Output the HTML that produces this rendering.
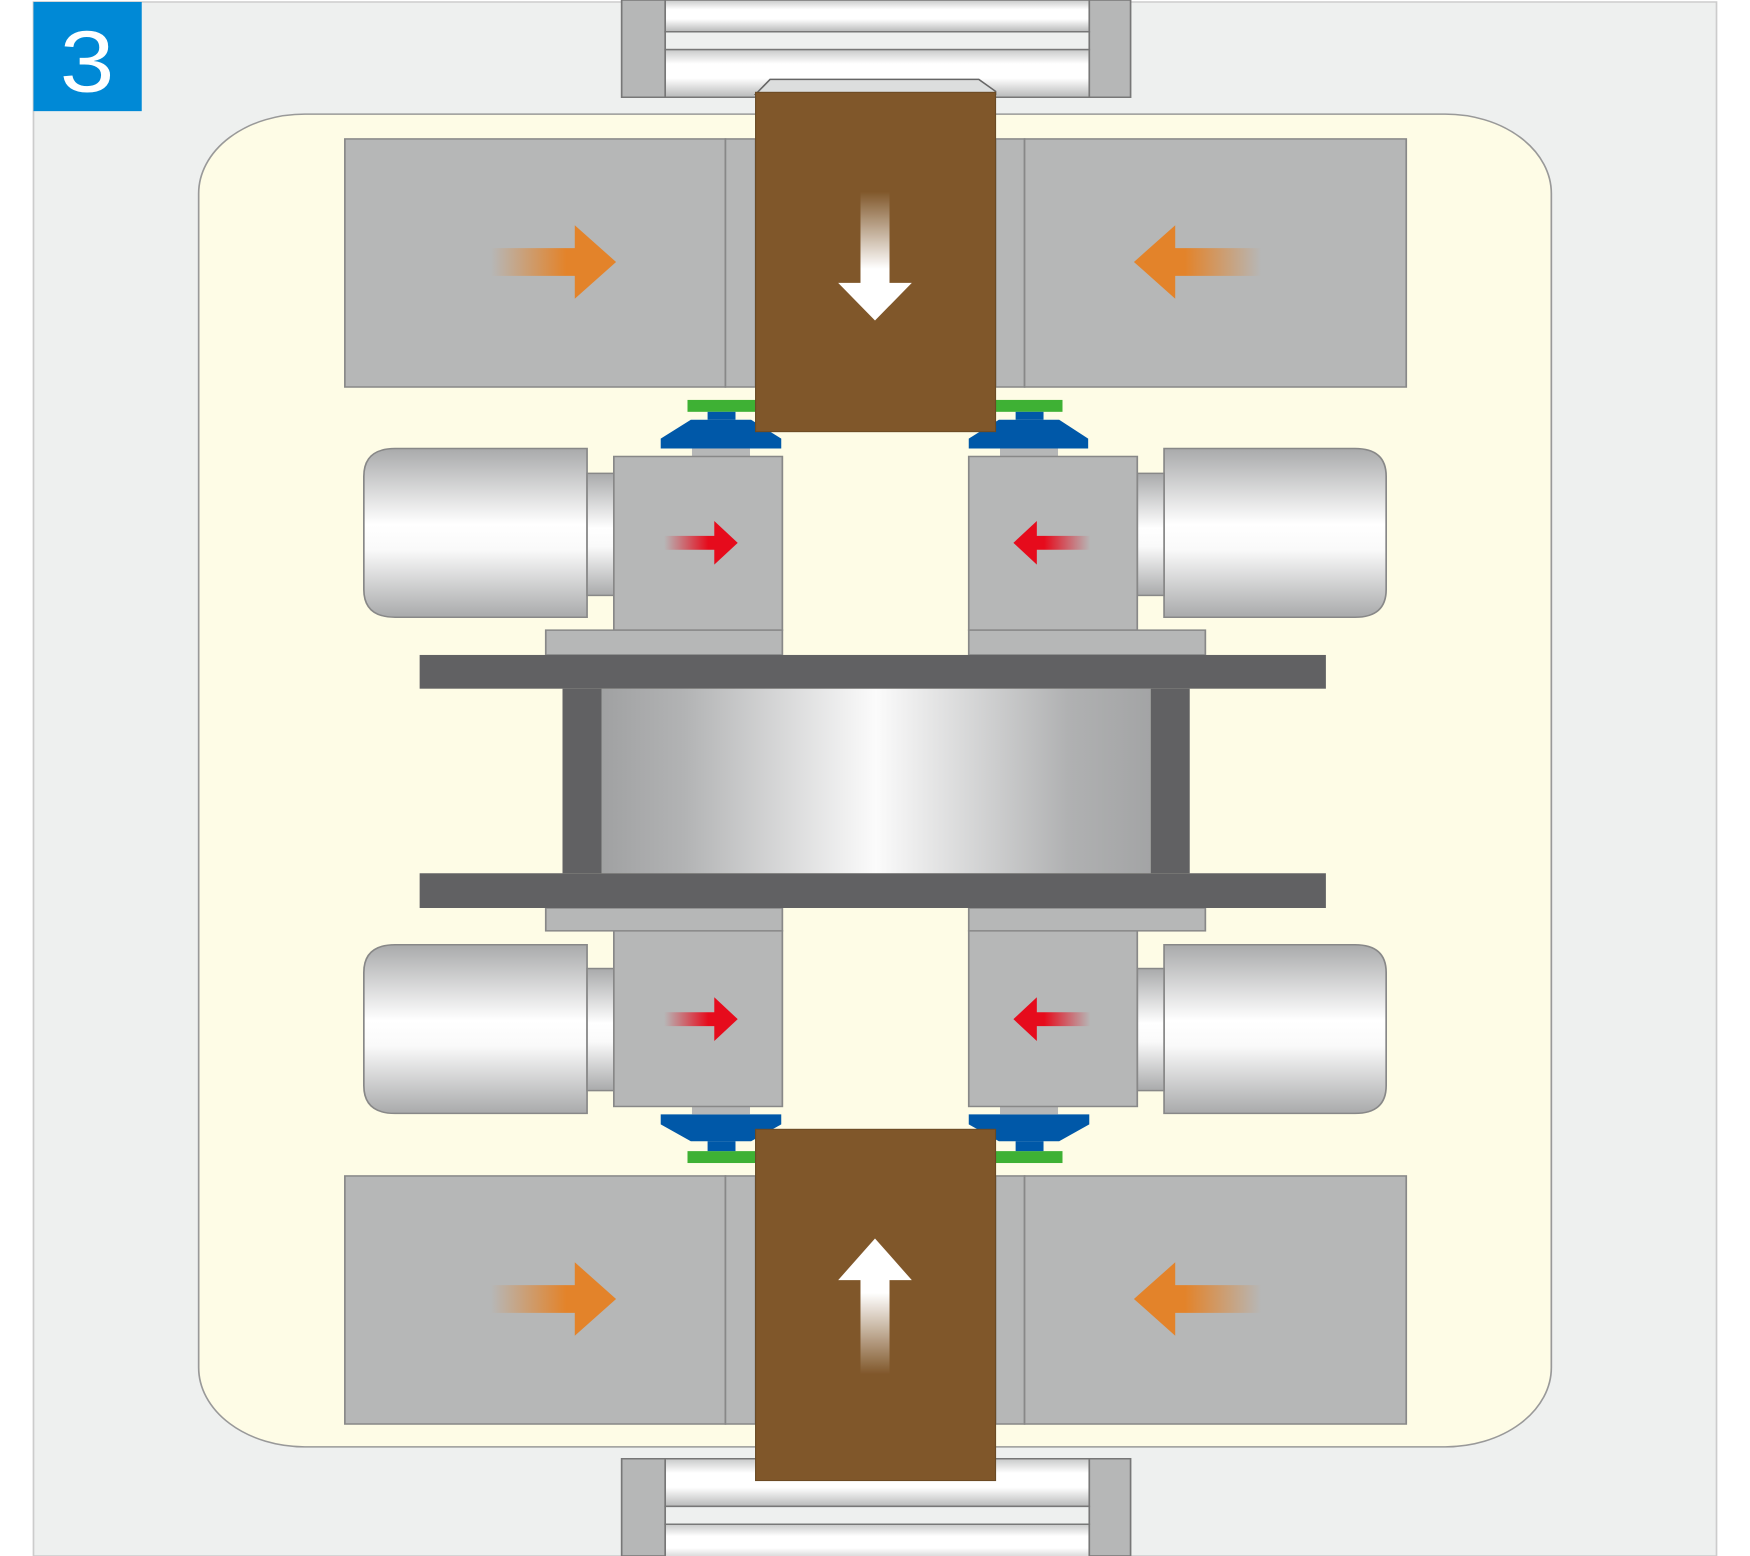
<!DOCTYPE html>
<html><head><meta charset="utf-8"><style>html,body{margin:0;padding:0;background:#fff}svg{display:block}</style></head>
<body>
<svg width="1750" height="1556" viewBox="0 0 1568 1568" preserveAspectRatio="none" xmlns="http://www.w3.org/2000/svg">
<defs>
<linearGradient id="roll" x1="0" y1="0" x2="0" y2="1"><stop offset="0" stop-color="#c8c9c9"/><stop offset="0.3" stop-color="#fff"/><stop offset="0.6" stop-color="#fff"/><stop offset="1" stop-color="#b8b9b9"/></linearGradient>
<linearGradient id="mot" x1="0" y1="0" x2="0" y2="1"><stop offset="0" stop-color="#a9aaab"/><stop offset="0.45" stop-color="#fff"/><stop offset="0.6" stop-color="#fafafa"/><stop offset="1" stop-color="#a9aaab"/></linearGradient>
<linearGradient id="wheel" x1="0" y1="0" x2="1" y2="0"><stop offset="0" stop-color="#a0a1a2"/><stop offset="0.15" stop-color="#b2b3b4"/><stop offset="0.5" stop-color="#fbfbfb"/><stop offset="0.85" stop-color="#b0b1b2"/><stop offset="1" stop-color="#a3a4a5"/></linearGradient>
<linearGradient id="orR" x1="0" y1="0" x2="1" y2="0"><stop offset="0" stop-color="#e3832a" stop-opacity="0"/><stop offset="0.6" stop-color="#e3832a"/></linearGradient>
<linearGradient id="orL" x1="1" y1="0" x2="0" y2="0"><stop offset="0" stop-color="#e3832a" stop-opacity="0"/><stop offset="0.6" stop-color="#e3832a"/></linearGradient>
<linearGradient id="rdR" x1="0" y1="0" x2="1" y2="0"><stop offset="0" stop-color="#e60b1c" stop-opacity="0"/><stop offset="0.6" stop-color="#e60b1c"/></linearGradient>
<linearGradient id="rdL" x1="1" y1="0" x2="0" y2="0"><stop offset="0" stop-color="#e60b1c" stop-opacity="0"/><stop offset="0.6" stop-color="#e60b1c"/></linearGradient>
<linearGradient id="wD" x1="0" y1="0" x2="0" y2="1"><stop offset="0" stop-color="#fff" stop-opacity="0"/><stop offset="0.6" stop-color="#fff"/></linearGradient>
<linearGradient id="wU" x1="0" y1="1" x2="0" y2="0"><stop offset="0" stop-color="#fff" stop-opacity="0"/><stop offset="0.6" stop-color="#fff"/></linearGradient>
</defs>
<rect x="0" y="0" width="1568" height="1568" fill="#fff"/>
<rect x="30" y="2" width="1508" height="1566" fill="#eef0ef" stroke="#ccc" stroke-width="1.5"/>
<rect x="30" y="2" width="97" height="110" fill="#0089d6"/>
<text x="78" y="92" font-family="Liberation Sans, sans-serif" font-size="88" fill="#fff" text-anchor="middle">3</text>
<!-- rollers -->
<g stroke="#777" stroke-width="1.5">
<rect x="557" y="0" width="456" height="98" fill="#b6b7b7"/>
<rect x="596" y="0" width="380" height="32" fill="url(#roll)"/>
<rect x="596" y="32" width="380" height="18" fill="#eef0ef"/>
<rect x="596" y="50" width="380" height="48" fill="url(#roll)"/>
<rect x="557" y="1470" width="456" height="98" fill="#b6b7b7"/>
<rect x="596" y="1470" width="380" height="48" fill="url(#roll)"/>
<rect x="596" y="1518" width="380" height="18" fill="#eef0ef"/>
<rect x="596" y="1536" width="380" height="40" fill="url(#roll)"/>
</g>
<rect x="178" y="115" width="1212" height="1343" rx="95" ry="80" fill="#fefce6" stroke="#999" stroke-width="1.5"/>
<!-- gray boxes -->
<g fill="#b6b7b7" stroke="#888" stroke-width="1.5">
<rect x="309" y="140" width="341" height="250"/><rect x="650" y="140" width="27" height="250"/>
<rect x="892" y="140" width="26" height="250"/><rect x="918" y="140" width="342" height="250"/>
<rect x="309" y="1185" width="341" height="250"/><rect x="650" y="1185" width="27" height="250"/>
<rect x="892" y="1185" width="26" height="250"/><rect x="918" y="1185" width="342" height="250"/>
</g>
<!-- orange arrows -->
<path d="M440 250H515V227L552 264L515 301V278H440Z" fill="url(#orR)"/>
<path d="M1130 250H1053V227L1016 264L1053 301V278H1130Z" fill="url(#orL)"/>
<path d="M440 1295H515V1272L552 1309L515 1346V1323H440Z" fill="url(#orR)"/>
<path d="M1130 1295H1053V1272L1016 1309L1053 1346V1323H1130Z" fill="url(#orL)"/>
<!-- pads top -->
<g>
<rect x="616" y="403" width="62" height="12" fill="#3eb134"/><rect x="892" y="403" width="60" height="12" fill="#3eb134"/>
<rect x="634" y="415" width="25" height="8" fill="#0058a8"/><rect x="910" y="415" width="25" height="8" fill="#0058a8"/>
<path d="M619 423H673L700 442V452H592V442Z" fill="#0058a8"/><path d="M895 423H949L975 442V452H868V442Z" fill="#0058a8"/>
<rect x="620" y="452" width="52" height="8" fill="#b6b7b7"/><rect x="896" y="452" width="52" height="8" fill="#b6b7b7"/>
<rect x="616" y="1160" width="62" height="12" fill="#3eb134"/><rect x="892" y="1160" width="60" height="12" fill="#3eb134"/>
<rect x="634" y="1150" width="25" height="10" fill="#0058a8"/><rect x="910" y="1150" width="25" height="10" fill="#0058a8"/>
<path d="M592 1123H700V1133L673 1150H619L592 1133Z" fill="#0058a8"/><path d="M868 1123H976V1133L949 1150H895L868 1133Z" fill="#0058a8"/>
<rect x="620" y="1115" width="52" height="8" fill="#b6b7b7"/><rect x="896" y="1115" width="52" height="8" fill="#b6b7b7"/>
</g>
<!-- brown blocks -->
<path d="M677 95L690 80H877L892 92V95Z" fill="#dcdede" stroke="#666" stroke-width="1.5"/>
<rect x="677" y="93" width="215" height="342" fill="#80572a" stroke="#6a4a24" stroke-width="1"/>
<rect x="677" y="1138" width="215" height="354" fill="#80572a" stroke="#6a4a24" stroke-width="1"/>
<path d="M771 193H797V285H817L784 323L751 285H771Z" fill="url(#wD)"/>
<path d="M771 1385H797V1290H817L784 1248L751 1290H771Z" fill="url(#wU)"/>
<!-- motors -->
<g stroke="#888" stroke-width="1.5">
<path d="M526 452V622H354Q326 622 326 594V480Q326 452 354 452Z" fill="url(#mot)"/>
<rect x="526" y="477" width="24" height="123" fill="url(#mot)"/>
<rect x="550" y="460" width="151" height="175" fill="#b6b7b7"/>
<rect x="489" y="635" width="212" height="25" fill="#b6b7b7"/>
<path d="M1043 452V622H1214Q1242 622 1242 594V480Q1242 452 1214 452Z" fill="url(#mot)"/>
<rect x="1019" y="477" width="24" height="123" fill="url(#mot)"/>
<rect x="868" y="460" width="151" height="175" fill="#b6b7b7"/>
<rect x="868" y="635" width="212" height="25" fill="#b6b7b7"/>
<path d="M526 952V1122H354Q326 1122 326 1094V980Q326 952 354 952Z" fill="url(#mot)"/>
<rect x="526" y="976" width="24" height="123" fill="url(#mot)"/>
<rect x="550" y="938" width="151" height="177" fill="#b6b7b7"/>
<rect x="489" y="915" width="212" height="23" fill="#b6b7b7"/>
<path d="M1043 952V1122H1214Q1242 1122 1242 1094V980Q1242 952 1214 952Z" fill="url(#mot)"/>
<rect x="1019" y="976" width="24" height="123" fill="url(#mot)"/>
<rect x="868" y="938" width="151" height="177" fill="#b6b7b7"/>
<rect x="868" y="915" width="212" height="23" fill="#b6b7b7"/>
</g>
<!-- red arrows -->
<path d="M595 540H640V525L661 547L640 569V554H595Z" fill="url(#rdR)"/>
<path d="M977 540H929V525L908 547L929 569V554H977Z" fill="url(#rdL)"/>
<path d="M595 1020H640V1005L661 1027L640 1049V1034H595Z" fill="url(#rdR)"/>
<path d="M977 1020H929V1005L908 1027L929 1049V1034H977Z" fill="url(#rdL)"/>
<!-- wheel assembly -->
<rect x="539" y="694" width="492" height="186" fill="url(#wheel)"/>
<g fill="#616163">
<rect x="376" y="660" width="812" height="34"/><rect x="376" y="880" width="812" height="35"/>
<rect x="504" y="694" width="35" height="186"/><rect x="1031" y="694" width="35" height="186"/>
</g>
</svg>
</body></html>
